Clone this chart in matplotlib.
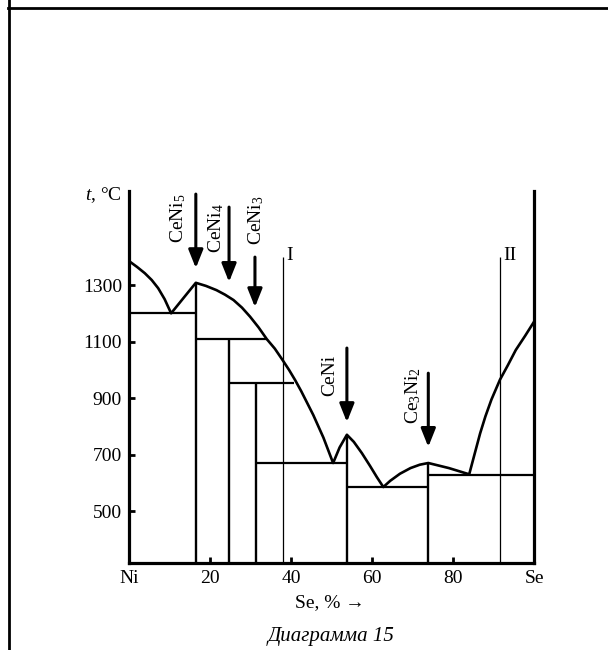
import matplotlib
matplotlib.use('Agg')
import matplotlib.pyplot as plt
from matplotlib.lines import Line2D

plt.rcParams['font.family'] = ['Liberation Serif', 'DejaVu Serif']
plt.rcParams['mathtext.fontset'] = 'custom'
plt.rcParams['mathtext.rm'] = 'Liberation Serif'
plt.rcParams['mathtext.it'] = 'Liberation Serif:italic'

# liquidus, one continuous line from Ni to Se (Se %, t in C)
liquidus_x = [0, 2, 3.9, 5.6, 7.2, 8.8, 10.4, 13.5, 16.5, 19, 21.6, 23.7, 25.8,
              27.9, 29.9, 32, 34.0, 36, 37.9, 39.5, 41.0, 42.5, 45.5, 48, 50.4,
              52, 53.8, 55.5, 57.5, 59.5, 61.2, 62.8, 64.5, 66.9, 69.5, 71.8,
              73.9, 79, 84, 85.3, 86.7, 88, 89.5, 91.6, 93.5, 95.5, 97.8, 100]
liquidus_t = [1385, 1364, 1342, 1318, 1289, 1250, 1200, 1255, 1308, 1297, 1282,
              1266, 1247, 1220, 1188, 1150, 1109, 1075, 1035, 1000, 964, 925,
              840, 760, 670, 725, 770, 745, 705, 660, 620, 585, 607, 632, 652,
              664, 670, 652, 630, 700, 775, 835, 895, 965, 1015, 1070, 1120, 1170]

# horizontal (eutectic / peritectic) lines
solid_t = [1200, 1110, 955, 670, 585, 627]
solid_x0 = [0, 16.5, 24.7, 31.4, 53.8, 73.9]
solid_x1 = [16.5, 34.0, 40.8, 53.8, 73.9, 100]

# compounds: vertical lines, arrows and labels
comp_names = [r'CeNi$_5$', r'CeNi$_4$', r'CeNi$_3$', 'CeNi', r'Ce$_3$Ni$_2$']
comp_x = [16.5, 24.7, 31.4, 53.8, 73.9]
comp_top = [1308, 1110, 955, 770, 670]
arrow_x = [16.5, 24.7, 31.1, 53.8, 73.9]
arrow_t0 = [1622, 1576, 1399, 1077, 988]
arrow_t1 = [1360, 1311, 1222, 815, 727]
label_x = [12.2, 21.6, 31.4, 49.6, 70.1]
label_t = [1626, 1590, 1619, 1052, 1010]

# sections I and II
sect_names = ['I', 'II']
sect_x = [38, 91.6]
sect_top = 1399

xticks = [0, 20, 40, 60, 80, 100]
xtick_labels = ['Ni', '20', '40', '60', '80', 'Se']
yticks = [500, 700, 900, 1100, 1300]

fs = 14

fig = plt.figure(figsize=(6.08, 6.5), dpi=100)
ax = fig.add_axes([129 / 608, 87 / 650, 405 / 608, 372 / 650])
ax.set_xlim(0, 100)
ax.set_ylim(316, 1633)

ax.plot(liquidus_x, liquidus_t, color='black', lw=1.9, solid_joinstyle='round')
ax.hlines(solid_t, solid_x0, solid_x1, color='black', lw=1.6)
ax.vlines(comp_x, ax.get_ylim()[0], comp_top, color='black', lw=1.7)
ax.vlines(sect_x, ax.get_ylim()[0], sect_top, color='black', lw=0.9)

for name, x in zip(sect_names, sect_x):
    ax.text(x + 0.8, 1403, name, ha='left', va='center', fontsize=fs)

for x, t0, t1 in zip(arrow_x, arrow_t0, arrow_t1):
    ax.annotate('', xy=(x, t1), xytext=(x, t0),
                arrowprops=dict(arrowstyle='-|>,head_length=0.55,head_width=0.22',
                                mutation_scale=20, lw=2.2, color='black',
                                shrinkA=0, shrinkB=0))

for name, x, t in zip(comp_names, label_x, label_t):
    ax.text(x, t, name, rotation=90, ha='center', va='top', fontsize=fs)

ax.text(-1.7, 1619, r'$t$, °C', ha='right', va='center', fontsize=fs)

ax.spines['top'].set_visible(False)
for side in ['left', 'right', 'bottom']:
    ax.spines[side].set_linewidth(2.3)

ax.set_xticks(xticks)
ax.set_xticklabels(xtick_labels)
ax.set_yticks(yticks)
ax.tick_params(direction='in', length=4.3, width=2, labelsize=fs, pad=5)

fig.text(330 / 608, 1 - 603 / 650, 'Se, % →', ha='center', va='center', fontsize=fs)
fig.text(331 / 608, 1 - 637 / 650, 'Диаграмма 15', ha='center', va='center',
         fontsize=15, style='italic')

# page frame
fig.add_artist(Line2D([8 / 608, 1], [1 - 8 / 650, 1 - 8 / 650], color='black', lw=2))
fig.add_artist(Line2D([8.5 / 608, 8.5 / 608], [0, 1], color='black', lw=2))

fig.savefig('out.png', dpi=100)
